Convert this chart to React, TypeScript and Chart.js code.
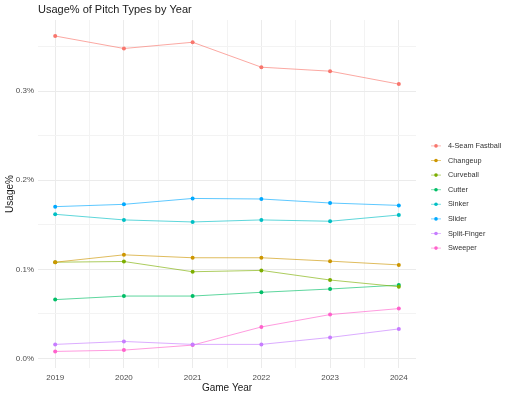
import React, { useEffect, useRef } from "react";
import { Chart, registerables } from "chart.js";

Chart.register(...registerables);

const years = [2019, 2020, 2021, 2022, 2023, 2024];
const pitchTypes = ["4-Seam Fastball", "Changeup", "Curveball", "Cutter", "Sinker", "Slider", "Split-Finger", "Sweeper"];
const fastball = [0.362, 0.348, 0.355, 0.327, 0.3225, 0.308];
const changeup = [0.108, 0.1163, 0.113, 0.113, 0.1092, 0.105];
const curveball = [0.108, 0.1088, 0.0973, 0.0988, 0.088, 0.0805];
const cutter = [0.066, 0.07, 0.07, 0.0742, 0.0779, 0.0823];
const sinker = [0.1618, 0.1555, 0.1532, 0.1555, 0.154, 0.161];
const slider = [0.1704, 0.173, 0.1796, 0.179, 0.1745, 0.1718];
const splitFinger = [0.0157, 0.019, 0.0157, 0.0157, 0.0235, 0.0331];
const sweeper = [0.0078, 0.0093, 0.0149, 0.0353, 0.0492, 0.0559];
const seriesValues = [fastball, changeup, curveball, cutter, sinker, slider, splitFinger, sweeper];
const colors = ["#F8766D", "#CD9600", "#7CAE00", "#00BE67", "#00BFC4", "#00A9FF", "#C77CFF", "#FF61CC"];
const yTickValues = [0, 0.05, 0.1, 0.15, 0.2, 0.25, 0.3, 0.35];
const xTickValues = [2019, 2019.5, 2020, 2020.5, 2021, 2021.5, 2022, 2022.5, 2023, 2023.5, 2024];

const FONT = "'Liberation Sans', Arial, sans-serif";

const overlayPlugin = {
  id: "overlay",
  afterDraw(chart: any) {
    const ctx = chart.ctx;
    ctx.save();
    ctx.fillStyle = "#1a1a1a";
    ctx.font = `11px ${FONT}`;
    ctx.textBaseline = "middle";
    ctx.textAlign = "left";
    ctx.fillText("Usage% of Pitch Types by Year", chart.chartArea.left, 10);
    const n = chart.data.datasets.length;
    const spacing = 14.6;
    const y0 = 197 - ((n - 1) * spacing) / 2;
    const kx = 431;
    chart.data.datasets.forEach((ds: any, i: number) => {
      const y = y0 + i * spacing;
      ctx.strokeStyle = ds.borderColor;
      ctx.globalAlpha = 0.8;
      ctx.lineWidth = 0.8;
      ctx.beginPath();
      ctx.moveTo(kx, y);
      ctx.lineTo(kx + 10, y);
      ctx.stroke();
      ctx.globalAlpha = 1;
      ctx.fillStyle = ds.backgroundColor;
      ctx.beginPath();
      ctx.arc(kx + 5, y, 1.8, 0, Math.PI * 2);
      ctx.fill();
      ctx.fillStyle = "#333333";
      ctx.font = `7.3px ${FONT}`;
      ctx.textAlign = "left";
      ctx.fillText(ds.label, 448, y);
    });
    ctx.restore();
  },
};

export default function App() {
  const canvasRef = useRef<HTMLCanvasElement | null>(null);

  useEffect(() => {
    document.body.style.margin = "0";
    const canvas = canvasRef.current;
    if (!canvas) return;
    const datasets = pitchTypes.map((name, i) => ({
      label: name,
      data: years.map((yr, j) => ({ x: yr, y: seriesValues[i][j] })),
      borderColor: colors[i] + "CC",
      backgroundColor: colors[i],
      borderWidth: 0.8,
      pointRadius: 2,
      pointBorderWidth: 0,
      tension: 0,
    }));
    const chart = new Chart(canvas, {
      type: "line",
      data: { datasets },
      plugins: [overlayPlugin],
      options: {
        animation: false,
        responsive: false,
        maintainAspectRatio: false,
        layout: { padding: { left: 0, top: 20, right: 96, bottom: 0 } },
        plugins: {
          legend: { display: false },
          title: { display: false },
          tooltip: { enabled: false },
        },
        scales: {
          x: {
            type: "linear",
            min: 2018.75,
            max: 2024.25,
            afterBuildTicks: (s: any) => {
              s.ticks = xTickValues.map((v) => ({ value: v }));
            },
            afterFit: (s: any) => {
              s.height = 29;
            },
            border: { display: false },
            grid: {
              drawTicks: false,
              color: (c: any) => (c.tick && Number.isInteger(c.tick.value) ? "#EBEBEB" : "#F3F3F3"),
              lineWidth: 1,
            },
            ticks: {
              autoSkip: false,
              maxRotation: 0,
              padding: 5,
              color: "#4D4D4D",
              font: { family: FONT, size: 8 },
              callback: (v: any) => (Number.isInteger(v) ? String(v) : ""),
            },
            title: {
              display: true,
              text: "Game Year",
              color: "#1a1a1a",
              font: { family: FONT, size: 10 },
              padding: { top: 0, bottom: 3 },
            },
          },
          y: {
            type: "linear",
            min: -0.0108,
            max: 0.38,
            afterBuildTicks: (s: any) => {
              s.ticks = yTickValues.map((v) => ({ value: v }));
            },
            afterFit: (s: any) => {
              s.width = 38;
            },
            border: { display: false },
            grid: {
              drawTicks: false,
              color: (c: any) =>
                c.tick && Math.abs(c.tick.value * 10 - Math.round(c.tick.value * 10)) < 1e-6 ? "#EBEBEB" : "#F3F3F3",
              lineWidth: 1,
            },
            ticks: {
              autoSkip: false,
              padding: 4,
              color: "#4D4D4D",
              font: { family: FONT, size: 8 },
              callback: (v: any) =>
                Math.abs(v * 10 - Math.round(v * 10)) < 1e-6 ? `${(Math.round(v * 10) / 10).toFixed(1)}%` : "",
            },
            title: {
              display: true,
              text: "Usage%",
              color: "#1a1a1a",
              font: { family: FONT, size: 10 },
              padding: { top: 4, bottom: 0 },
            },
          },
        },
      },
    });
    return () => chart.destroy();
  }, []);

  return (
    <div style={{ position: "absolute", left: 0, top: 0, width: 512, height: 397, background: "#fff" }}>
      <canvas ref={canvasRef} width={512} height={397} style={{ width: 512, height: 397 }} />
    </div>
  );
}
